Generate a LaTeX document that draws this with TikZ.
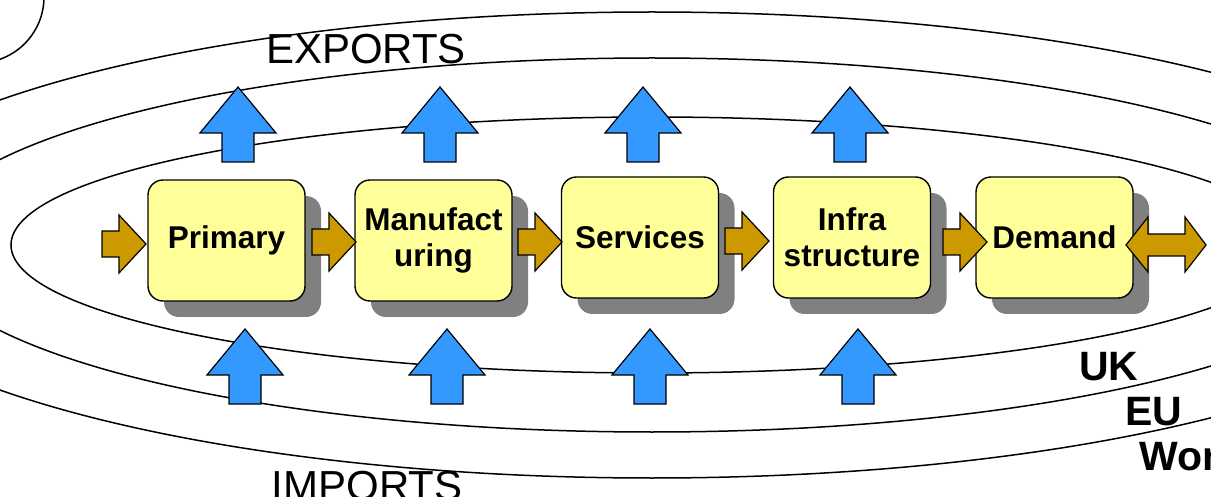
\documentclass[tikz,border=0pt]{standalone}
\usepackage{fontspec}
\setmainfont{Liberation Sans}
\usetikzlibrary{shadows}

\definecolor{boxyellow}{HTML}{FFFF99}
\definecolor{flowgold}{HTML}{CC9900}
\definecolor{tradeblue}{HTML}{3399FF}
\definecolor{shadowgray}{HTML}{808080}

\tikzset{
  sector/.style={draw, line width=1.4pt, fill=boxyellow, rounded corners=15pt,
    minimum width=157pt, minimum height=121pt, inner sep=0pt, align=center,
    font=\fontsize{31.5}{36}\selectfont\bfseries,
    general shadow={fill=shadowgray, shadow xshift=16pt, shadow yshift=-16pt}},
  orbit/.style={line width=1.5pt},
  tradelabel/.style={inner sep=0pt, font=\fontsize{42}{48}\selectfont},
  region/.style={inner sep=0pt, anchor=base west, font=\fontsize{41}{48}\selectfont\bfseries},
  flow/.style={draw, line width=1.2pt, fill=flowgold},
  trade/.style={draw, line width=1.2pt, fill=tradeblue},
  pics/flowarrow/.style={code={
    \filldraw[flow] (0,-13) -- (17,-13) -- (17,-29) -- (44,0) -- (17,29) -- (17,13) -- (0,13) -- cycle;}},
  pics/tradearrow/.style={code={
    \filldraw[trade] (-16,0) -- (-16,-29) -- (-38,-29) -- (0,-75) -- (38,-29) -- (16,-29) -- (16,0) -- cycle;}},
}

\begin{document}
\begin{tikzpicture}[x=1pt, y=-1pt]
  \useasboundingbox (0,0) rectangle (1211,497);
  \clip (0,0) rectangle (1211,497);

  % UK, EU, World
  \draw[orbit] (652,245) ellipse [x radius=641, y radius=128];
  \draw[orbit] (652,245) ellipse [x radius=733, y radius=187];
  \draw[orbit] (652,245) ellipse [x radius=833, y radius=233];
  \draw[orbit] (-22,-3) circle [radius=66];

  \node[tradelabel, anchor=base] (exports) at (366,64) {EXPORTS};
  \node[tradelabel, anchor=base] (imports) at (367,500) {IMPORTS};
  \node[region] (uk) at (1079,380) {UK};
  \node[region] (eu) at (1125,425) {EU};
  \node[region] (world) at (1139,470) {World};

  % sectors
  \node[sector] (primary) at (226.5,240.5) {Primary};
  \node[sector] (manuf) at (433.5,240.5) {Manufact\\uring};
  \node[sector] (services) at (640,237.5) {Services};
  \node[sector] (infra) at (852,237.5) {Infra\\structure};
  \node[sector] (demand) at (1054.5,237.5) {Demand};

  % flows
  \pic at (102,244) {flowarrow};
  \pic at (312,242) {flowarrow};
  \pic at (518,242) {flowarrow};
  \pic at (725,241) {flowarrow};
  \pic at (943,242) {flowarrow};
  \filldraw[flow] (1126,245) -- (1148,217) -- (1148,234) -- (1185,234) -- (1185,217) -- (1206,245)
    -- (1185,272) -- (1185,256) -- (1148,256) -- (1148,272) -- cycle;

  % exports and imports
  \foreach \x in {238,440,643,850}
    \pic at (\x,162) {tradearrow};
  \foreach \x in {245,447,650,858}
    \pic at (\x,404) {tradearrow};
\end{tikzpicture}
\end{document}
